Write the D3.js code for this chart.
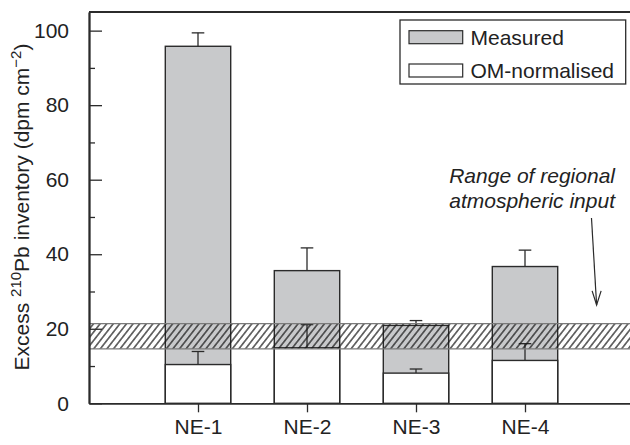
<!DOCTYPE html>
<html>
<head>
<meta charset="utf-8">
<script src="https://cdn.jsdelivr.net/npm/d3@7"></script>
<style>
  body { margin: 0; background: #fff; }
  svg { display: block; font-family: "Liberation Sans", Arial, sans-serif; }
</style>
</head>
<body>
<svg width="630" height="445"></svg>
<script>
var width = 630, height = 445

// data
var sites = ["NE-1", "NE-2", "NE-3", "NE-4"]
var measured = [95.8, 35.6, 20.9, 36.7]
var measuredErr = [99.4, 41.7, 22.2, 41.1]
var normalised = [10.4, 14.9, 8.1, 11.5]
var normalisedErr = [13.9, 21.1, 9.2, 16.0]
var atmosRange = [14.6, 21.4]
var yMajor = [0, 20, 40, 60, 80, 100]
var yMinor = [10, 30, 50, 70, 90]

var ink = "#2b2b2b"
var grey = "#c8c9cb"

var svg = d3.select("svg")

var x = d3.scaleLinear().domain([0, 5]).range([89, 634])
var y = d3.scaleLinear().domain([0, 105]).range([403.3, 12])
var barW = x(0.6) - x(0)
var capW = 6.3

// hatch pattern
var defs = svg.append("defs")
defs.append("pattern")
    .attr("id", "hatch")
    .attr("patternUnits", "userSpaceOnUse")
    .attr("width", 5.2)
    .attr("height", 10)
    .attr("patternTransform", "rotate(38)")
  .append("line")
    .attr("x1", 2.6).attr("y1", 0)
    .attr("x2", 2.6).attr("y2", 10)
    .attr("stroke", "#111")
    .attr("stroke-width", 1.15)

var bars = svg.append("g")

// measured (grey) bars
bars.selectAll(".meas")
    .data(sites)
    .join("rect")
    .attr("class", "meas")
    .attr("x", function(d, i) { return x(i + 1) - barW / 2 })
    .attr("y", function(d, i) { return y(measured[i]) })
    .attr("width", barW)
    .attr("height", function(d, i) { return y(0) - y(measured[i]) })
    .attr("fill", grey)
    .attr("stroke", ink)
    .attr("stroke-width", 1.4)

// OM-normalised (white) bars
bars.selectAll(".norm")
    .data(sites)
    .join("rect")
    .attr("class", "norm")
    .attr("x", function(d, i) { return x(i + 1) - barW / 2 })
    .attr("y", function(d, i) { return y(normalised[i]) })
    .attr("width", barW)
    .attr("height", function(d, i) { return y(0) - y(normalised[i]) })
    .attr("fill", "#fff")
    .attr("stroke", ink)
    .attr("stroke-width", 1.4)

// error bars
function errorBars(base, top, cls) {
    var g = svg.append("g").attr("class", cls)
        .attr("stroke", ink).attr("stroke-width", 1.3)
    g.selectAll("line.v")
        .data(sites)
        .join("line")
        .attr("class", "v")
        .attr("x1", function(d, i) { return x(i + 1) })
        .attr("x2", function(d, i) { return x(i + 1) })
        .attr("y1", function(d, i) { return y(base[i]) })
        .attr("y2", function(d, i) { return y(top[i]) })
    g.selectAll("line.c")
        .data(sites)
        .join("line")
        .attr("class", "c")
        .attr("x1", function(d, i) { return x(i + 1) - capW })
        .attr("x2", function(d, i) { return x(i + 1) + capW })
        .attr("y1", function(d, i) { return y(top[i]) })
        .attr("y2", function(d, i) { return y(top[i]) })
}
errorBars(measured, measuredErr, "err-meas")
errorBars(normalised, normalisedErr, "err-norm")

// hatched band of regional atmospheric input
svg.append("rect")
    .attr("x", x(0))
    .attr("y", y(atmosRange[1]))
    .attr("width", width - x(0))
    .attr("height", y(atmosRange[0]) - y(atmosRange[1]))
    .attr("fill", "url(#hatch)")
svg.selectAll(".band-edge")
    .data(atmosRange)
    .join("line")
    .attr("class", "band-edge")
    .attr("x1", x(0)).attr("x2", width)
    .attr("y1", function(d) { return y(d) })
    .attr("y2", function(d) { return y(d) })
    .attr("stroke", "#7a7a7a")
    .attr("stroke-width", 1.2)

// axes
var yAxis = svg.append("g")
    .attr("transform", "translate(" + x(0) + ",0)")
    .call(d3.axisLeft(y).tickValues(yMajor).tickSizeInner(-13).tickSizeOuter(0).tickPadding(20))
var yAxisMinor = svg.append("g")
    .attr("transform", "translate(" + x(0) + ",0)")
    .call(d3.axisLeft(y).tickValues(yMinor).tickSizeInner(-6).tickSizeOuter(0).tickFormat(""))
var xAxis = svg.append("g")
    .attr("transform", "translate(0," + y(0) + ")")
    .call(d3.axisBottom(x).tickValues([1, 2, 3, 4])
        .tickFormat(function(d) { return sites[d - 1] })
        .tickSizeInner(9).tickSizeOuter(0).tickPadding(7))

svg.selectAll(".domain").attr("stroke", ink).attr("stroke-width", 1.8)
svg.selectAll(".tick line").attr("stroke", ink).attr("stroke-width", 1.3)
svg.selectAll(".tick text").attr("fill", "#222").style("font-size", "21px")
    .style("font-family", "'Liberation Sans', Arial, sans-serif")

// frame top
svg.append("line")
    .attr("x1", x(0)).attr("x2", width)
    .attr("y1", y(105)).attr("y2", y(105))
    .attr("stroke", ink).attr("stroke-width", 1.8)

// y label
var ylab = svg.append("text")
    .attr("transform", "translate(29," + 207 + ") rotate(-90)")
    .attr("text-anchor", "middle")
    .attr("fill", "#222")
    .style("font-size", "21px")
ylab.append("tspan").text("Excess ")
ylab.append("tspan").text("210").attr("dy", -8).style("font-size", "15px")
ylab.append("tspan").text("Pb inventory (dpm cm").attr("dy", 8)
ylab.append("tspan").text("\u22122").attr("dy", -8).style("font-size", "15px")
ylab.append("tspan").text(")").attr("dy", 8)

// legend
var legendItems = ["Measured", "OM-normalised"]
var legendFill = [grey, "#fff"]
var legend = svg.append("g")
legend.append("rect")
    .attr("x", 400).attr("y", 20)
    .attr("width", 225.7).attr("height", 64)
    .attr("fill", "#fff").attr("stroke", ink).attr("stroke-width", 1.3)
legend.selectAll(".sw")
    .data(legendItems)
    .join("rect")
    .attr("class", "sw")
    .attr("x", 409).attr("y", function(d, i) { return 30.7 + i * 33.3 })
    .attr("width", 53.7).attr("height", 13)
    .attr("fill", function(d, i) { return legendFill[i] })
    .attr("stroke", ink).attr("stroke-width", 1.2)
legend.selectAll(".lt")
    .data(legendItems)
    .join("text")
    .attr("class", "lt")
    .attr("x", 470.5).attr("y", function(d, i) { return 44.5 + i * 33.3 })
    .attr("fill", "#222")
    .style("font-size", "21px")
    .text(function(d) { return d })

// annotation
var note = ["Range of regional", "atmospheric input"]
svg.selectAll(".note")
    .data(note)
    .join("text")
    .attr("class", "note")
    .attr("x", 615).attr("y", function(d, i) { return 183 + i * 25 })
    .attr("text-anchor", "end")
    .attr("fill", "#222")
    .style("font-size", "21px")
    .style("font-style", "italic")
    .text(function(d) { return d })

var arrow = svg.append("g").attr("stroke", ink).attr("stroke-width", 1.2).attr("fill", "none")
var a0 = [x(4.61), y(49.7)], a1 = [x(4.657), y(26.4)]
arrow.append("line")
    .attr("x1", a0[0]).attr("y1", a0[1])
    .attr("x2", a1[0]).attr("y2", a1[1])
arrow.append("path")
    .attr("d", "M" + (a1[0] - 4.5) + "," + (a1[1] - 14) + "L" + a1[0] + "," + a1[1] + "L" + (a1[0] + 4.5) + "," + (a1[1] - 14))
</script>
</body>
</html>
